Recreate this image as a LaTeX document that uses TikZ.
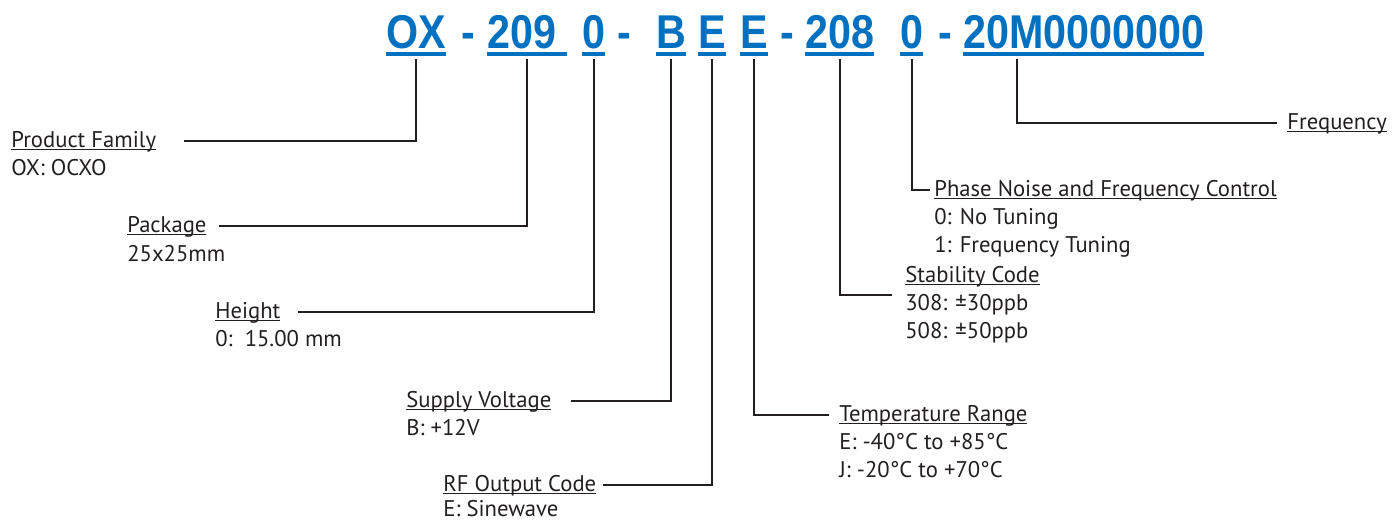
\documentclass[tikz,border=0pt]{standalone}
\usepackage{fontspec}
\setmainfont{PT Sans}
\newfontfamily\codefont[FakeStretch=0.87]{Liberation Sans}
\usepackage{xcolor}
\usepackage{tikz}
\usetikzlibrary{calc}
\definecolor{codeblue}{RGB}{0,112,192}
\definecolor{ink}{RGB}{35,31,32}
\newsavebox\ulbox
\newcommand\codeul[1]{\sbox\ulbox{#1}\usebox\ulbox\llap{\rule[-4.3pt]{\wd\ulbox}{2pt}}}
\newcommand\lblul[1]{\sbox\ulbox{#1}\usebox\ulbox\llap{\rule[-1.9pt]{\wd\ulbox}{0.7pt}}}

\begin{document}
\begin{tikzpicture}[
    x=0.02cm, y=-0.02cm,
    code/.style={anchor=base west, inner sep=0pt, text=codeblue, font=\codefont\bfseries\fontsize{27}{30}\selectfont},
    title/.style={anchor=base west, inner sep=0pt, text=ink, font=\fontsize{12.9}{16}\selectfont},
    value/.style={title},
    link/.style={draw=ink, line width=1.4pt, shorten >=2pt}
]
\useasboundingbox (0,0) rectangle (1395,522);

% part number
\node[code] (ox) at (386,48) {\codeul{OX}};
\node[code] (d1) at (461,48) {-};
\node[code] (pkg) at (487,48) {\codeul{209\kern6pt}};
\node[code] (hgt) at (582,48) {\codeul{0}};
\node[code] (d2) at (617,48) {-};
\node[code] (sup) at (656,48) {\codeul{B}};
\node[code] (rfc) at (698,48) {\codeul{E}};
\node[code] (tmp) at (740,48) {\codeul{E}};
\node[code] (d3) at (780,48) {-};
\node[code] (stb) at (805,48) {\codeul{208}};
\node[code] (pnc) at (900,48) {\codeul{0}};
\node[code] (d4) at (938,48) {-};
\node[code] (frq) at (963,48) {\codeul{20M0000000}};
\coordinate (frqtap) at ($(frq.south west)+(54,0)$);

% field descriptions
\node[title] (pf) at (11,147) {\lblul{Product Family}};
\node[value] (pf1) at (11,175) {OX: OCXO};
\node[title] (pk) at (127,232) {\lblul{Package}};
\node[value] (pk1) at (127,261) {25x25mm};
\node[title] (ht) at (215,318) {\lblul{Height}};
\node[value] (ht1) at (215,346) {0:\ \ 15.00 mm};
\node[title] (sv) at (406,407) {\lblul{Supply Voltage}};
\node[value] (sv1) at (406,435) {B: +12V};
\node[title] (ro) at (443,491) {\lblul{RF Output Code}};
\node[value] (ro1) at (443,516) {E: Sinewave};
\node[title] (tr) at (839,421) {\lblul{Temperature Range}};
\node[value] (tr1) at (839,449) {E: -40°C to +85°C};
\node[value] (tr2) at (839,477) {J: -20°C to +70°C};
\node[title] (sc) at (905,282) {\lblul{Stability Code}};
\node[value] (sc1) at (905,310) {308: ±30ppb};
\node[value] (sc2) at (905,338) {508: ±50ppb};
\node[title] (pn) at (934,196) {\lblul{Phase Noise and Frequency Control}};
\node[value] (pn1) at (934,224) {0: No Tuning};
\node[value] (pn2) at (934,252) {1: Frequency Tuning};
\node[title] (fr) at (1287,129) {\lblul{Frequency}};

% leaders
\draw[link] ($(pf.base east)+(28,-6)$) -| (ox.south);
\draw[link] ($(pk.base east)+(12,-6)$) -| (pkg.south);
\draw[link] ($(ht.base east)+(17,-6)$) -| (hgt.south);
\draw[link] ($(sv.base east)+(19,-6)$) -| (sup.south);
\draw[link] ($(ro.base east)+(6,-6)$) -| (rfc.south);
\draw[link] ($(tr.base west)+(-10,-6)$) -| (tmp.south);
\draw[link] ($(sc.base west)+(-13,13)$) -| (stb.south);
\draw[link] ($(pn.base west)+(-4,-6)$) -| (pnc.south);
\draw[link] ($(fr.base west)+(-10,-6)$) -| (frqtap);
\end{tikzpicture}
\end{document}
